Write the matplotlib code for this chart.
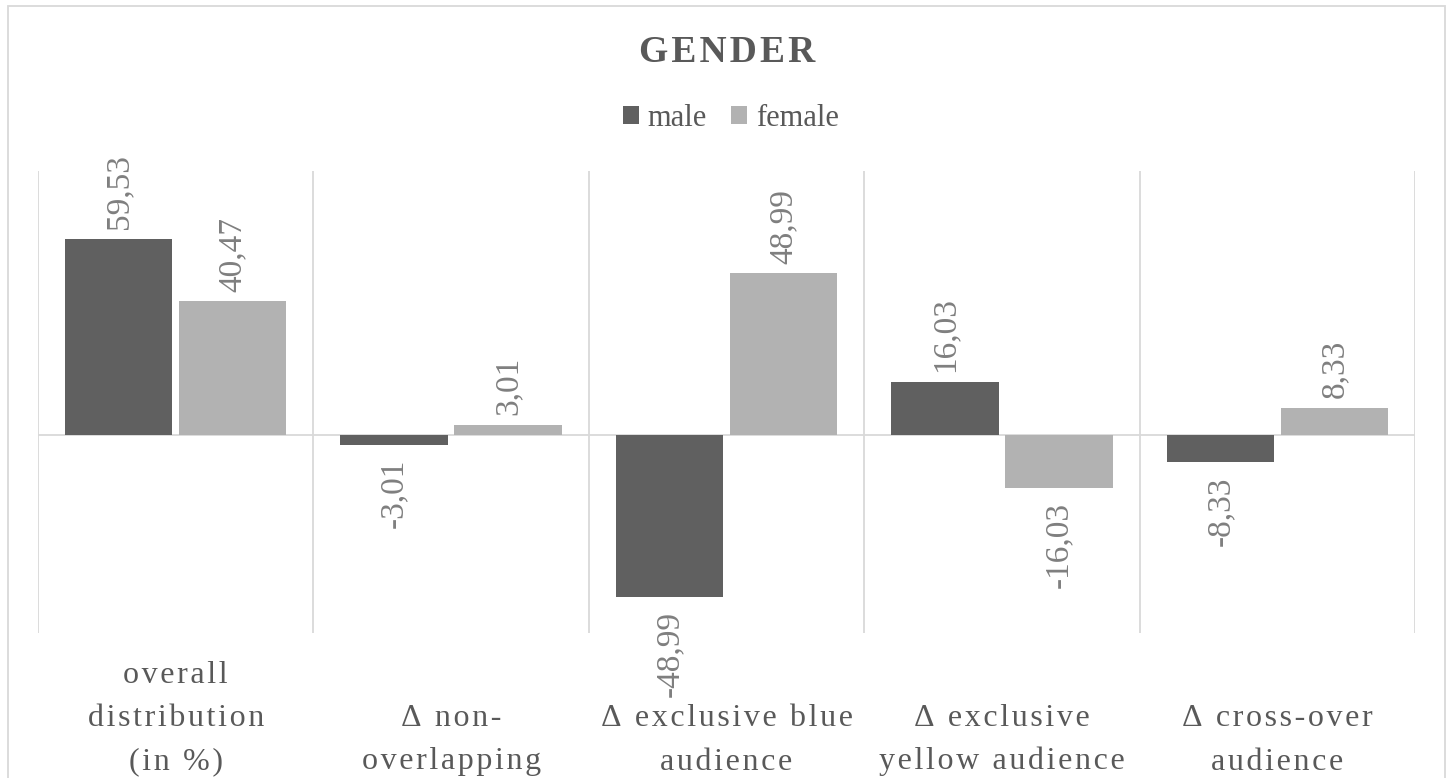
import matplotlib
matplotlib.use("Agg")
import matplotlib.pyplot as plt
from matplotlib.patches import Rectangle

# ---- data -------------------------------------------------------------
categories = [
    "overall\ndistribution\n(in %)",
    "Δ non-\noverlapping",
    "Δ exclusive blue\naudience",
    "Δ exclusive\nyellow audience",
    "Δ cross-over\naudience",
]
series_names = ["male", "female"]
male = [59.53, -3.01, -48.99, 16.03, -8.33]
female = [40.47, 3.01, 48.99, -16.03, 8.33]
title = "GENDER"

# ---- style ------------------------------------------------------------
SERIF = ["Liberation Serif", "DejaVu Serif"]
TEXT = "#595959"
LABEL = "#7f7f7f"
GRID = "#d9d9d9"
colors = ["#606060", "#b2b2b2"]
HAIR = "\u200a"


def tracked(s, sep):
    """Spread the letters of each line apart."""
    return "\n".join(sep.join(line) for line in s.split("\n"))


W, H = 1453, 778
fig = plt.figure(figsize=(W / 100, H / 100), dpi=100)

# outer chart frame
fig.add_artist(Rectangle((8 / W, -0.02), (1445 - 8) / W, 1.02 - 6 / H,
                         transform=fig.transFigure, fill=False,
                         edgecolor=GRID, linewidth=1.3))

ax = fig.add_axes([38 / W, 1 - 633 / H, (1415 - 38) / W, (633 - 171) / H])
ax.set_xlim(-0.5, len(categories) - 0.5)
ax.set_ylim(-60, 80)
for s in ax.spines.values():
    s.set_visible(False)
ax.set_xticks([])
ax.set_yticks([])

# category separators and zero line
for b in range(len(categories) + 1):
    ax.axvline(b - 0.5, color=GRID, linewidth=1.3, zorder=0)
ax.axhline(0, color=GRID, linewidth=1.3, zorder=1)

bar_w = 0.39
offsets = [-0.207, 0.207]
handles = []
for name, vals, off, col in zip(series_names, [male, female], offsets, colors):
    xs = [i + off for i in range(len(vals))]
    bars = ax.bar(xs, vals, width=bar_w, color=col, label=name, zorder=2)
    handles.append(bars)
    for x, v in zip(xs, vals):
        txt = f"{v:.2f}".replace(".", ",")
        ax.annotate(txt, xy=(x, v), xytext=(0, 7 if v >= 0 else -10),
                    textcoords="offset points", rotation=90,
                    ha="center", va="bottom" if v >= 0 else "top",
                    fontsize=24, family=SERIF, color=LABEL,
                    annotation_clip=False)

# category labels under the plot
trans = matplotlib.transforms.blended_transform_factory(ax.transData, fig.transFigure)
for i, cat in enumerate(categories):
    ax.text(i, 1.5 / H, tracked(cat, HAIR), transform=trans, ha="center",
            va="bottom", multialignment="center", fontsize=23,
            family=SERIF, color=TEXT, linespacing=1.64)

fig.text(727 / W, 1 - 53 / H, tracked(title, HAIR), ha="center", va="center",
         fontsize=27, fontweight="bold", family=SERIF, color=TEXT)

leg = fig.legend(handles=handles, labels=series_names, loc="center",
                 bbox_to_anchor=(731 / W, 1 - 118 / H), ncol=2, frameon=False,
                 prop={"family": SERIF, "size": 22}, labelcolor=TEXT,
                 handlelength=0.52, handleheight=0.52, handletextpad=0.3,
                 columnspacing=0.8, borderpad=0)

fig.savefig("out.png", dpi=100)
